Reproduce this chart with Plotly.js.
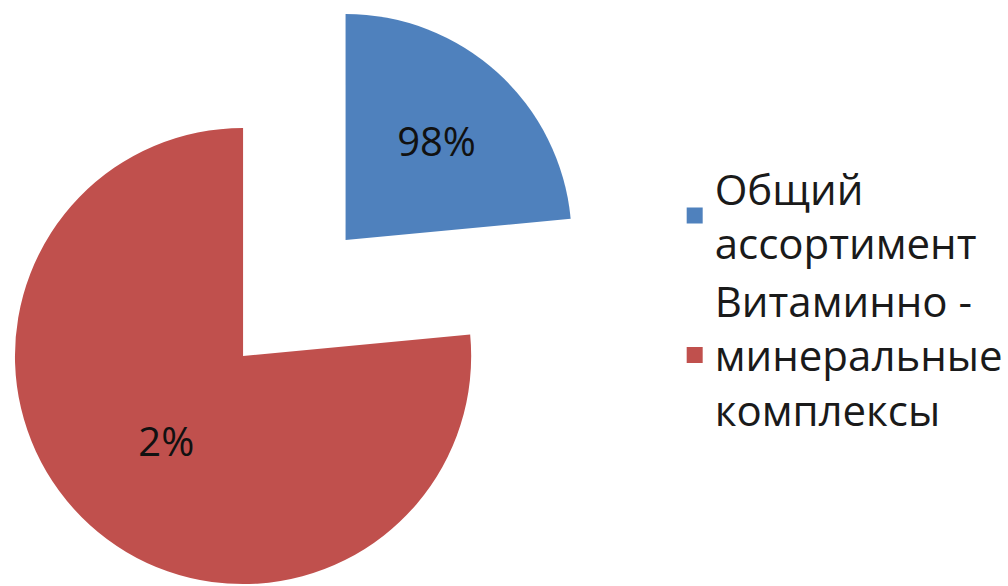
<!DOCTYPE html>
<html>
<head>
<meta charset="utf-8">
<script src="https://cdn.plot.ly/plotly-3.0.1.min.js"></script>
<style>
  html, body { margin: 0; padding: 0; background: #fff; overflow: hidden; }
  #chart { width: 1008px; height: 586px; }
</style>
</head>
<body>
<div id="chart"></div>
<script>
// slice names and sizes (angles), labels as printed on the slices
const categories = ['Общий ассортимент', 'Витаминно - минеральные комплексы'];
const legendNames = ['Общий<br>ассортимент', 'Витаминно -<br>минеральные<br>комплексы'];
const sliceShares = [23.5, 76.5];
const sliceLabels = ['98%', '2%'];
const sliceColors = ['#4F81BD', '#C0504D'];

const clear = 'rgba(0,0,0,0)';

// one pie per slice so the blue one can sit far out like in the original
function slicePie(idx, domain) {
    return {
        type: 'pie',
        labels: categories,
        values: sliceShares,
        text: sliceLabels.map((t, i) => i === idx ? t : ''),
        textinfo: 'text',
        textposition: 'inside',
        insidetextorientation: 'horizontal',
        insidetextfont: { family: 'Open Sans', size: 40, color: '#111111' },
        marker: {
            colors: sliceColors.map((c, i) => i === idx ? c : clear),
            line: { width: 0 }
        },
        sort: false,
        direction: 'clockwise',
        rotation: 0,
        domain: domain,
        showlegend: false,
        hoverinfo: 'skip'
    };
}

const pieBlue = slicePie(0, { x: [0.1190, 0.5694], y: [0.2031, 0.9778] });
const pieRed = slicePie(1, { x: [0.0149, 0.4693], y: [0.0017, 0.7833] });

// legend entries
const legendTraces = categories.map((name, i) => ({
    type: 'scatter',
    mode: 'markers',
    x: [null],
    y: [null],
    name: legendNames[i],
    marker: { symbol: 'square', size: 16, color: sliceColors[i] },
    hoverinfo: 'skip'
}));

const layout = {
    width: 1008,
    height: 586,
    margin: { l: 0, r: 0, t: 0, b: 0 },
    paper_bgcolor: '#ffffff',
    plot_bgcolor: '#ffffff',
    xaxis: { visible: false },
    yaxis: { visible: false },
    showlegend: true,
    legend: {
        x: 0.672,
        xanchor: 'left',
        y: 0.49,
        yanchor: 'middle',
        bgcolor: clear,
        font: { family: 'Open Sans', size: 42, color: '#1a1a1a' },
        itemwidth: 30,
        tracegroupgap: 0
    }
};

Plotly.newPlot('chart', [pieRed, pieBlue].concat(legendTraces), layout, { displayModeBar: false, staticPlot: true });
</script>
</body>
</html>
